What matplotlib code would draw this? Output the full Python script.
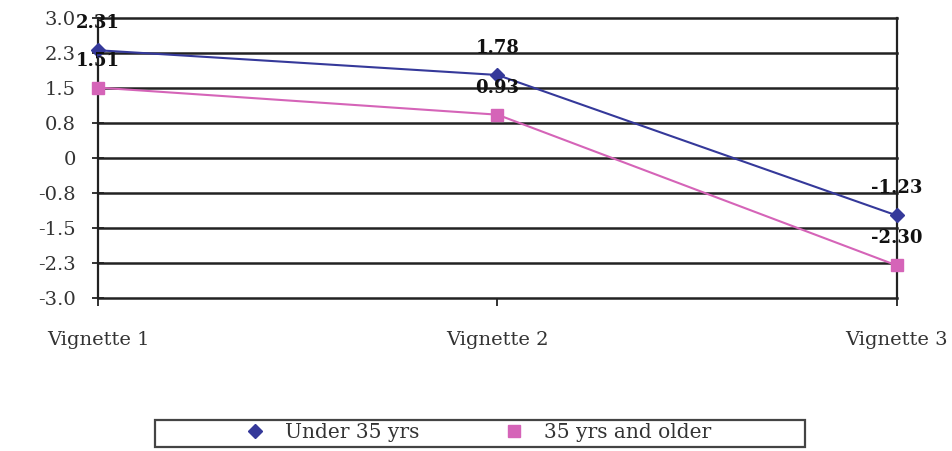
import numpy as np
import matplotlib.pyplot as plt
from matplotlib.patches import Rectangle
from matplotlib.lines import Line2D

vignettes = ["Vignette 1", "Vignette 2", "Vignette 3"]
under_35 = [2.31, 1.78, -1.23]
over_35 = [1.51, 0.93, -2.30]
y_ticks = [-3.0, -2.25, -1.5, -0.75, 0.0, 0.75, 1.5, 2.25, 3.0]
y_tick_labels = ["-3.0", "-2.3", "-1.5", "-0.8", "0", "0.8", "1.5", "2.3", "3.0"]

plt.rcParams['font.family'] = ['DejaVu Serif']

fig = plt.figure(figsize=(9.52, 4.51), dpi=100)
ax = fig.add_axes([0.103, 0.339, 0.839, 0.621])

x = np.arange(len(vignettes))
blue = '#35399a'
pink = '#d564b8'
txt = '#333333'

for yt in y_ticks:
    ax.axhline(yt, color='#222222', lw=1.8, zorder=1, clip_on=False)

ax.plot(x, under_35, color=blue, lw=1.5, marker='D', ms=7, clip_on=False, zorder=3)
ax.plot(x, over_35, color=pink, lw=1.5, marker='s', ms=9, clip_on=False, zorder=3)

# value labels above each point
for ys in (under_35, over_35):
    for xi, yi in zip(x, ys):
        ax.annotate(f"{yi:.2f}", (xi, yi), xytext=(0, 27), textcoords='offset pixels',
                    ha='center', va='center', fontsize=13, fontweight='bold',
                    color='#111111', zorder=4, annotation_clip=False)

ax.set_xlim(0, 2)
ax.set_ylim(-3, 3)
ax.set_yticks(y_ticks)
ax.set_yticklabels(y_tick_labels, fontsize=14, color=txt)
ax.set_xticks(x)
ax.set_xticklabels(vignettes, fontsize=14, color=txt)
ax.tick_params(axis='y', direction='inout', length=8, width=1.3, pad=12, color='#222222')
ax.tick_params(axis='x', direction='out', length=6, width=1.3, pad=18, color='#222222')

ax.spines['top'].set_visible(False)
ax.spines['bottom'].set_visible(False)
for s in ['left', 'right']:
    ax.spines[s].set_linewidth(1.6)
    ax.spines[s].set_color('#222222')

# legend box at the bottom
fig.patches.append(Rectangle((155 / 952, 4 / 451), 650 / 952, 27 / 451,
                             transform=fig.transFigure, fill=False,
                             edgecolor='#444444', lw=1.6))
handles = [Line2D([], [], ls='none', marker='D', ms=7, color=blue),
           Line2D([], [], ls='none', marker='s', ms=9, color=pink)]
fig.legend(handles, ['Under 35 yrs', '35 yrs and older'], loc='center',
           bbox_to_anchor=(478 / 952, 18 / 451), ncol=2, frameon=False,
           fontsize=14.5, columnspacing=4.2, handlelength=1.0, handletextpad=1.0,
           labelcolor=txt)

plt.savefig('out.png', dpi=100)
